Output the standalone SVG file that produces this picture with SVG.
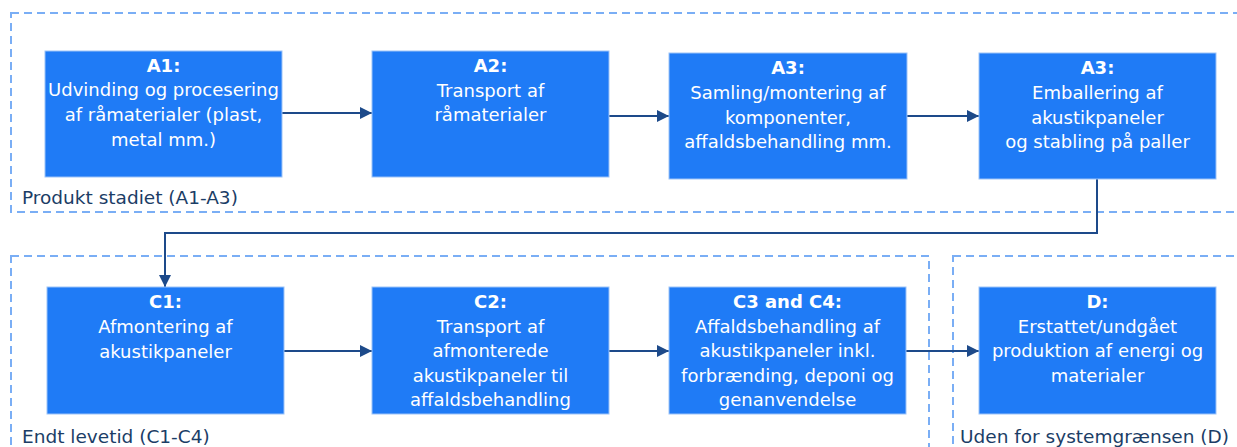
<svg xmlns="http://www.w3.org/2000/svg" width="1237" height="447" viewBox="0 0 1237 447">
<defs>
<style>
.grp{fill:none;stroke:#7aaef5;stroke-width:2;stroke-dasharray:8 5}
.box{fill:#1f7bf6;stroke:#9cc3f8;stroke-width:1}
.t{font-family:"DejaVu Sans",Verdana,sans-serif;font-size:18px;fill:#ffffff;text-anchor:middle}
.b{font-weight:bold}
.lbl{font-family:"DejaVu Sans",Verdana,sans-serif;font-size:18.5px;fill:#1b3d66}
.c{fill:none;stroke:#1d4a8a;stroke-width:2}
</style>
<marker id="ah" viewBox="0 0 10 10" refX="10" refY="5" markerWidth="6" markerHeight="6" markerUnits="strokeWidth" orient="auto">
<path d="M0,0 L10,5 L0,10 z" fill="#1d4a8a"/>
</marker>
</defs>
<rect width="1237" height="447" fill="#ffffff"/>
<g id="group-product">
<rect class="grp" x="11" y="13" width="1240" height="199"/>
<text class="lbl" x="22" y="204">Produkt stadiet (A1-A3)</text>
</g>
<g id="group-endoflife">
<rect class="grp" x="11" y="256" width="918" height="210"/>
<text class="lbl" x="22" y="443">Endt levetid (C1-C4)</text>
</g>
<g id="group-beyond">
<rect class="grp" x="953" y="256" width="300" height="210"/>
<text class="lbl" x="960" y="443">Uden for systemgrænsen (D)</text>
</g>
<g id="connectors">
<line class="c" x1="282" y1="113" x2="372" y2="113" marker-end="url(#ah)"/>
<line class="c" x1="609" y1="116" x2="669" y2="116" marker-end="url(#ah)"/>
<line class="c" x1="907" y1="116" x2="979" y2="116" marker-end="url(#ah)"/>
<polyline class="c" points="1097,179 1097,233 165,233 165,287" marker-end="url(#ah)"/>
<line class="c" x1="284" y1="351" x2="372" y2="351" marker-end="url(#ah)"/>
<line class="c" x1="609" y1="351" x2="669" y2="351" marker-end="url(#ah)"/>
<line class="c" x1="906" y1="351" x2="979" y2="351" marker-end="url(#ah)"/>
</g>
<g id="node-A1">
<rect class="box" x="45" y="51" width="237" height="126"/>
<text class="t b" x="163.5" y="72">A1:</text>
<text class="t" x="163.5" y="96">Udvinding og procesering</text>
<text class="t" x="163.5" y="121">af råmaterialer (plast,</text>
<text class="t" x="163.5" y="146">metal mm.)</text>
</g>
<g id="node-A2">
<rect class="box" x="372" y="51" width="237" height="126"/>
<text class="t b" x="490.5" y="72">A2:</text>
<text class="t" x="490.5" y="97">Transport af</text>
<text class="t" x="490.5" y="121">råmaterialer</text>
</g>
<g id="node-A3a">
<rect class="box" x="669" y="53" width="238" height="126"/>
<text class="t b" x="788" y="74">A3:</text>
<text class="t" x="788" y="99">Samling/montering af</text>
<text class="t" x="788" y="124">komponenter,</text>
<text class="t" x="788" y="148">affaldsbehandling mm.</text>
</g>
<g id="node-A3b">
<rect class="box" x="979" y="53" width="237" height="126"/>
<text class="t b" x="1097.5" y="74">A3:</text>
<text class="t" x="1097.5" y="99">Emballering af</text>
<text class="t" x="1097.5" y="124">akustikpaneler</text>
<text class="t" x="1097.5" y="148">og stabling på paller</text>
</g>
<g id="node-C1">
<rect class="box" x="47" y="287" width="237" height="127"/>
<text class="t b" x="165.5" y="308">C1:</text>
<text class="t" x="165.5" y="333">Afmontering af</text>
<text class="t" x="165.5" y="358">akustikpaneler</text>
</g>
<g id="node-C2">
<rect class="box" x="372" y="287" width="237" height="127"/>
<text class="t b" x="490.5" y="308">C2:</text>
<text class="t" x="490.5" y="333">Transport af</text>
<text class="t" x="490.5" y="357">afmonterede</text>
<text class="t" x="490.5" y="382">akustikpaneler til</text>
<text class="t" x="490.5" y="406">affaldsbehandling</text>
</g>
<g id="node-C3C4">
<rect class="box" x="669" y="287" width="237" height="127"/>
<text class="t b" x="787.5" y="308">C3 and C4:</text>
<text class="t" x="787.5" y="333">Affaldsbehandling af</text>
<text class="t" x="787.5" y="357">akustikpaneler inkl.</text>
<text class="t" x="787.5" y="382">forbrænding, deponi og</text>
<text class="t" x="787.5" y="406">genanvendelse</text>
</g>
<g id="node-D">
<rect class="box" x="979" y="287" width="237" height="127"/>
<text class="t b" x="1097.5" y="308">D:</text>
<text class="t" x="1097.5" y="333">Erstattet/undgået</text>
<text class="t" x="1097.5" y="357">produktion af energi og</text>
<text class="t" x="1097.5" y="382">materialer</text>
</g>
</svg>
